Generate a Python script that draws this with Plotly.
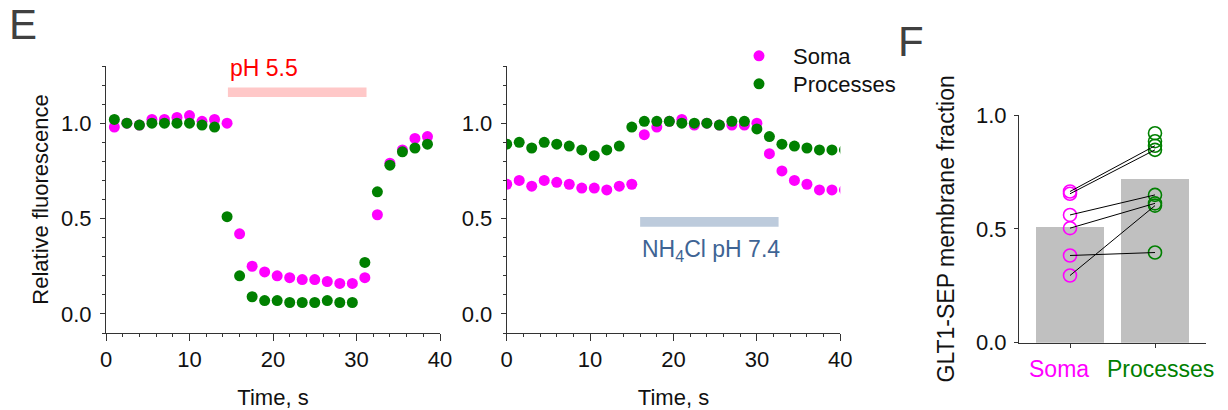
import plotly.graph_objects as go

# ---------------- data ----------------
t_left = [1, 2.5, 4, 5.5, 7, 8.5, 10, 11.5, 13, 14.5, 16, 17.5, 19, 20.5, 22, 23.5,
          25, 26.5, 28, 29.5, 31, 32.5, 34, 35.5, 37, 38.5]
soma_left = [0.98, 1.00, 0.99, 1.02, 1.02, 1.03, 1.04, 1.01, 1.02, 1.00, 0.42, 0.25,
             0.22, 0.20, 0.19, 0.18, 0.18, 0.17, 0.16, 0.16, 0.19, 0.52, 0.79, 0.86,
             0.92, 0.93]
proc_left = [1.02, 1.00, 0.99, 1.00, 1.00, 1.00, 1.00, 0.99, 0.98, 0.51, 0.20, 0.09,
             0.07, 0.07, 0.06, 0.06, 0.06, 0.07, 0.06, 0.06, 0.27, 0.64, 0.78, 0.85,
             0.87, 0.89]

t_mid = [0, 1.5, 3, 4.5, 6, 7.5, 9, 10.5, 12, 13.5, 15, 16.5, 18, 19.5, 21, 22.5,
         24, 25.5, 27, 28.5, 30, 31.5, 33, 34.5, 36, 37.5, 39, 40.5]
soma_mid = [0.68, 0.70, 0.67, 0.70, 0.69, 0.68, 0.66, 0.66, 0.65, 0.67, 0.68, 0.94,
            0.98, 1.01, 1.02, 0.99, 1.00, 0.99, 0.99, 0.99, 1.00, 0.84, 0.75, 0.70,
            0.68, 0.65, 0.65, 0.65]
proc_mid = [0.89, 0.90, 0.87, 0.90, 0.89, 0.88, 0.86, 0.83, 0.86, 0.88, 0.98, 1.01,
            1.01, 1.01, 1.00, 1.00, 1.00, 0.99, 1.01, 1.01, 0.97, 0.93, 0.89, 0.88,
            0.87, 0.86, 0.86, 0.86]

ph55_window = [14.6, 31.2]      # s, pH 5.5 application
nh4_window = [16.0, 32.6]       # s, NH4Cl pH 7.4 application

categories = ["Soma", "Processes"]
bar_means = [0.507, 0.718]
soma_cells = [0.664, 0.654, 0.561, 0.503, 0.383, 0.295]
proc_cells_paired = [0.865, 0.847, 0.649, 0.612, 0.396, 0.602]
proc_cells_extra = [0.920, 0.885]

# ---------------- style ----------------
MAG = "#FF00FF"
GRN = "#008000"
FONT = "Liberation Sans, Arial, sans-serif"
TXT = "#111111"
LINE = "#333333"

fig = go.Figure()

# left panel
fig.add_trace(go.Scatter(x=t_left, y=soma_left, mode="markers", name="Soma",
                         marker=dict(color=MAG, size=11), xaxis="x", yaxis="y",
                         legend="legend"))
fig.add_trace(go.Scatter(x=t_left, y=proc_left, mode="markers", name="Processes",
                         marker=dict(color=GRN, size=11), xaxis="x", yaxis="y",
                         legend="legend2"))
# middle panel
fig.add_trace(go.Scatter(x=t_mid, y=soma_mid, mode="markers", name="Soma",
                         marker=dict(color=MAG, size=11), xaxis="x2", yaxis="y2",
                         showlegend=False))
fig.add_trace(go.Scatter(x=t_mid, y=proc_mid, mode="markers", name="Processes",
                         marker=dict(color=GRN, size=11), xaxis="x2", yaxis="y2",
                         showlegend=False))

# right panel: bars
fig.add_trace(go.Bar(x=[0, 1], y=bar_means, width=0.8, marker=dict(color="#C0C0C0", line=dict(width=0)),
                     xaxis="x3", yaxis="y3", showlegend=False))
fig.add_trace(go.Scatter(x=[0] * len(soma_cells), y=soma_cells, mode="markers",
                         marker=dict(symbol="circle-open", color=MAG, size=13, line=dict(width=1.6)),
                         xaxis="x3", yaxis="y3", showlegend=False))
fig.add_trace(go.Scatter(x=[1] * (len(proc_cells_paired) + len(proc_cells_extra)),
                         y=proc_cells_paired + proc_cells_extra, mode="markers",
                         marker=dict(symbol="circle-open", color=GRN, size=13, line=dict(width=1.6)),
                         xaxis="x3", yaxis="y3", showlegend=False))
for s, p in zip(soma_cells, proc_cells_paired):
    fig.add_trace(go.Scatter(x=[0, 1], y=[s, p], mode="lines",
                             line=dict(color="black", width=1),
                             xaxis="x3", yaxis="y3", showlegend=False))

W, H = 1228, 410
def dx(a, b):
    return [a / W, b / W]
def dy(top, bottom):
    return [(H - bottom) / H, (H - top) / H]

common_x = dict(showline=True, linecolor=LINE, linewidth=1, showgrid=False, zeroline=False,
                ticks="outside", ticklen=7, tickwidth=1, tickcolor=LINE, automargin=False,
                tickangle=0, tickfont=dict(size=22, color=TXT, family=FONT))
common_y = dict(showline=True, linecolor=LINE, linewidth=1, showgrid=False, zeroline=False,
                ticks="outside", ticklen=5, tickwidth=1, tickcolor=LINE, automargin=False,
                ticklabelstandoff=4,
                tickfont=dict(size=22, color=TXT, family=FONT))

legend_style = dict(xanchor="left", yanchor="top", font=dict(size=22, color=TXT, family=FONT),
                    itemwidth=58, bgcolor="rgba(0,0,0,0)")

fig.update_layout(
    width=W, height=H, margin=dict(l=0, r=0, t=0, b=0, autoexpand=False),
    paper_bgcolor="white", plot_bgcolor="white",
    font=dict(family=FONT, color=TXT),
    bargap=0,
    xaxis=dict(domain=dx(106, 440), range=[0, 40], tickvals=[0, 10, 20, 30, 40],
               minor=dict(dtick=2, tick0=0, ticks="outside", ticklen=3, tickcolor=LINE),
               title=dict(text="Time, s", font=dict(size=22, color=TXT), standoff=18),
               anchor="y", **common_x),
    yaxis=dict(domain=dy(66, 333), range=[-0.1, 1.3], tickvals=[0, 0.5, 1.0], tickformat=".1f",
               minor=dict(dtick=0.1, tick0=0, ticks="outside", ticklen=3, tickcolor=LINE),
               title=dict(text="Relative fluorescence", font=dict(size=22, color=TXT), standoff=6),
               anchor="x", **common_y),
    xaxis2=dict(domain=dx(506.7, 840.3), range=[0, 40], tickvals=[0, 10, 20, 30, 40],
                minor=dict(dtick=2, tick0=0, ticks="outside", ticklen=3, tickcolor=LINE),
                title=dict(text="Time, s", font=dict(size=22, color=TXT), standoff=18),
                anchor="y2", **common_x),
    yaxis2=dict(domain=dy(66, 333), range=[-0.1, 1.3], tickvals=[0, 0.5, 1.0], tickformat=".1f",
                minor=dict(dtick=0.1, tick0=0, ticks="outside", ticklen=3, tickcolor=LINE),
                anchor="x2", **common_y),
    xaxis3=dict(domain=dx(1019, 1206), range=[-0.6, 1.6], tickvals=[0, 1],
                showticklabels=False,
                anchor="y3", showline=True, linecolor=LINE, linewidth=1, showgrid=False,
                zeroline=False, ticks="outside", ticklen=4, tickcolor=LINE, automargin=False),
    yaxis3=dict(domain=dy(115, 342.7), range=[0, 1.0], tickvals=[0, 0.5, 1.0], tickformat=".1f",
                anchor="x3", title=dict(text="GLT1-SEP membrane fraction",
                                        font=dict(size=23, color=TXT), standoff=14),
                showline=True, linecolor=LINE, linewidth=1, showgrid=False, zeroline=False,
                ticks="outside", ticklen=4, tickcolor=LINE, automargin=False,
                ticklabelstandoff=3,
                tickfont=dict(size=22, color=TXT, family=FONT)),
    legend=dict(x=725 / W, y=(H - 35) / H, **legend_style),
    legend2=dict(x=725 / W, y=(H - 63) / H, **legend_style),
    showlegend=True,
)

# category labels of panel F (coloured, placed under their bars)
for i, (cat, col, shift) in enumerate(zip(categories, [MAG, GRN], [-11, 5])):
    fig.add_annotation(xref="x3", yref="y3", x=i, y=0, text=cat, showarrow=False,
                       xanchor="center", yanchor="top", xshift=shift, yshift=-11,
                       font=dict(size=23, color=col, family=FONT))

# stimulus bars
fig.add_shape(type="rect", xref="x", yref="y", x0=ph55_window[0], x1=ph55_window[1],
              y0=1.138, y1=1.187, fillcolor="#FFC8C8", line=dict(width=0), layer="below")
fig.add_shape(type="rect", xref="x2", yref="y2", x0=nh4_window[0], x1=nh4_window[1],
              y0=0.457, y1=0.508, fillcolor="#BDCBDC", line=dict(width=0), layer="below")

fig.add_annotation(xref="x", yref="y", x=ph55_window[0], y=1.29, text="pH 5.5",
                   showarrow=False, xanchor="left", yanchor="middle",
                   font=dict(size=23, color="#FF0000", family=FONT))
fig.add_annotation(xref="x2", yref="y2", x=nh4_window[0], y=0.33,
                   text="NH<sub>4</sub>Cl pH 7.4",
                   showarrow=False, xanchor="left", yanchor="middle",
                   font=dict(size=23, color="#3E6494", family=FONT))

# panel letters
fig.add_annotation(xref="paper", yref="paper", x=7 / W, y=(H - 24) / H, text="E",
                   showarrow=False, xanchor="left", yanchor="middle",
                   font=dict(size=42, color="#404040", family=FONT))
fig.add_annotation(xref="paper", yref="paper", x=896 / W, y=(H - 42) / H, text="F",
                   showarrow=False, xanchor="left", yanchor="middle",
                   font=dict(size=42, color="#404040", family=FONT))

fig.write_html("out.html")
